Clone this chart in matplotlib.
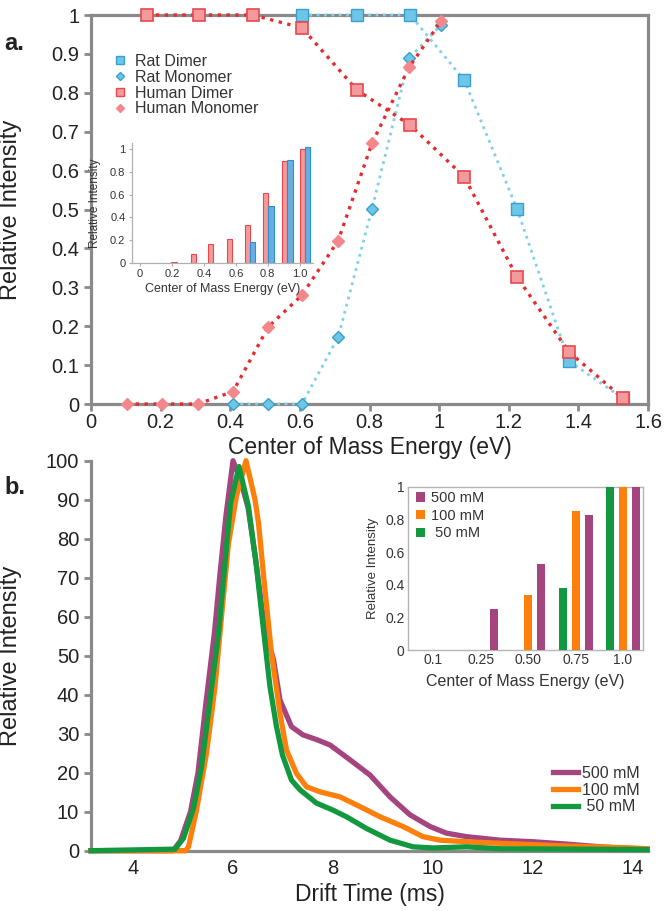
import matplotlib
matplotlib.use("Agg")
import matplotlib.pyplot as plt
from matplotlib.lines import Line2D
import numpy as np

plt.rcParams['font.family'] = ['Liberation Sans', 'DejaVu Sans']

# ---------------- Panel a data ----------------
rat_dimer_x = [0.606, 0.764, 0.917, 1.072, 1.224, 1.373, 1.528]
rat_dimer_y = [1.0, 1.0, 1.0, 0.833, 0.501, 0.110, 0.015]
rat_mono_x = [0.408, 0.509, 0.606, 0.710, 0.807, 0.914, 1.006]
rat_mono_y = [0.0, 0.0, 0.0, 0.172, 0.501, 0.889, 0.975]
hum_dimer_x = [0.161, 0.310, 0.465, 0.606, 0.764, 0.917, 1.072, 1.224, 1.373, 1.528]
hum_dimer_y = [1.0, 1.0, 1.0, 0.967, 0.807, 0.717, 0.584, 0.326, 0.134, 0.015]
hum_mono_x = [0.103, 0.204, 0.307, 0.408, 0.509, 0.606, 0.710, 0.807, 0.914, 1.006]
hum_mono_y = [0.0, 0.0, 0.0, 0.032, 0.198, 0.280, 0.420, 0.670, 0.866, 0.985]

# inset a
inset_a_energy = [0.23, 0.35, 0.46, 0.578, 0.689, 0.803, 0.922, 1.032]
inset_a_human = [0.012, 0.08, 0.166, 0.21, 0.33, 0.615, 0.895, 1.0]
inset_a_rat = [0.0, 0.0, 0.0, 0.0, 0.18, 0.50, 0.90, 1.02]
inset_a_xticks = [0, 0.2, 0.4, 0.6, 0.8, 1.0]
inset_a_xticklabels = ['0', '0.2', '0.4', '0.6', '0.8', '1.0']
inset_a_yticks = [0, 0.2, 0.4, 0.6, 0.8, 1.0]
inset_a_yticklabels = ['0', '0.2', '0.4', '0.6', '0.8', '1']

# ---------------- Panel b data ----------------
p500_x = [3.16, 4.80, 4.95, 5.15, 5.30, 5.46, 5.63, 5.74, 5.86, 6.00, 6.15, 6.30, 6.45, 6.58,
          6.70, 6.81, 6.94, 7.17, 7.40, 7.67, 7.94, 8.34, 8.74, 9.14, 9.54, 9.94, 10.27, 10.67,
          11.34, 12.00, 12.67, 13.34, 14.00, 14.28]
p500_y = [0, 0, 2.5, 10, 20, 38, 56, 71, 86, 100, 95, 88, 75, 62,
          54, 49, 38.6, 31.8, 29.7, 28.5, 27.1, 23.3, 19.4, 13.8, 9.2, 6.2, 4.5, 3.6,
          2.7, 2.3, 1.7, 1.0, 0.5, 0.4]
p100_x = [3.16, 5.05, 5.11, 5.27, 5.47, 5.64, 5.77, 5.91, 6.07, 6.26, 6.44, 6.51, 6.64, 6.77,
          6.94, 7.07, 7.27, 7.47, 7.74, 8.14, 8.54, 8.94, 9.40, 9.80, 10.14, 10.67, 11.34,
          12.67, 14.00, 14.28]
p100_y = [0, 0, 1, 10.4, 25, 42, 60, 78.8, 91, 100, 90, 84, 66.8, 50.6,
          35.2, 25.8, 19.8, 16.4, 15.1, 13.8, 11.3, 8.7, 6.2, 3.6, 2.7, 2.3, 1.9,
          1.2, 0.7, 0.5]
p50_x = [3.16, 4.84, 5.01, 5.21, 5.37, 5.54, 5.71, 5.82, 5.95, 6.12, 6.31, 6.47, 6.61, 6.74,
         6.87, 6.99, 7.17, 7.34, 7.67, 8.00, 8.27, 8.67, 9.14, 9.60, 10.00, 10.67, 11.34, 14.28]
p50_y = [0, 0.4, 3.2, 10.9, 21.5, 38.6, 55.7, 71, 89, 98.5, 88.2, 72.8, 56.6, 42,
         31.8, 24.5, 18.1, 15.6, 12.2, 10.4, 8.7, 5.7, 2.7, 1.0, 0.7, 1.0, 0.5, 0.3]

# inset b
inset_b_categories = ['0.1', '0.25', '0.50', '0.75', '1.0']
inset_b_500 = [0.0, 0.25, 0.53, 0.83, 1.0]
inset_b_100 = [0.0, 0.0, 0.34, 0.85, 1.0]
inset_b_50 = [0.0, 0.0, 0.0, 0.38, 1.0]

# ---------------- colours ----------------
RED_LINE = '#e62a2f'
RED_FACE = '#f29a9c'
RED_EDGE = '#e8484d'
RED_DIA = '#f2888c'
BLUE_LINE = '#80d0e6'
BLUE_FACE = '#6ec6e6'
BLUE_EDGE = '#3a9fd0'
PURPLE = '#a5457f'
ORANGE = '#fd7f0c'
GREEN = '#12983f'
SPINE = '#8a8a8a'
TXT = '#222222'

W, H = 666, 911
fig = plt.figure(figsize=(W / 100, H / 100), dpi=100)

def fax(l, b, r, t):
    return fig.add_axes([l / W, 1 - b / H, (r - l) / W, (b - t) / H])

# ================= Panel a =================
ax1 = fax(91, 404, 648, 15)
ax1.set_xlim(0, 1.6)
ax1.set_ylim(0, 1)
ax1.plot(rat_dimer_x, rat_dimer_y, ls=':', lw=2.0, color=BLUE_LINE, marker='s', ms=8,
         mfc=BLUE_FACE, mec=BLUE_EDGE, mew=1.0, clip_on=False, zorder=3)
ax1.plot(rat_mono_x, rat_mono_y, ls=':', lw=2.0, color=BLUE_LINE, marker='D', ms=6.5,
         mfc=BLUE_FACE, mec=BLUE_EDGE, mew=1.0, clip_on=False, zorder=3)
ax1.plot(hum_dimer_x, hum_dimer_y, ls=':', lw=2.4, color=RED_LINE, marker='s', ms=9,
         mfc=RED_FACE, mec=RED_EDGE, mew=1.2, clip_on=False, zorder=4)
ax1.plot(hum_mono_x, hum_mono_y, ls=':', lw=2.4, color=RED_LINE, marker='D', ms=6.5,
         mfc=RED_DIA, mec=RED_DIA, mew=1.0, clip_on=False, zorder=4)

for s in ax1.spines.values():
    s.set_color(SPINE)
    s.set_linewidth(2.3)
ax1.set_xticks(np.arange(0, 1.61, 0.2))
ax1.set_xticklabels(['0', '0.2', '0.4', '0.6', '0.8', '1', '1.2', '1.4', '1.6'])
ax1.set_yticks(np.arange(0, 1.01, 0.1))
ax1.set_yticklabels(['0', '0.1', '0.2', '0.3', '0.4', '0.5', '0.6', '0.7', '0.8', '0.9', '1'])
ax1.tick_params(axis='both', direction='out', length=5, width=2, color=SPINE,
                labelsize=14.5, labelcolor=TXT)
ax1.tick_params(axis='x', pad=1.5)
ax1.set_xlabel('Center of Mass Energy (eV)', fontsize=16.5, color=TXT)
ax1.set_ylabel('Relative Intensity', fontsize=17, color=TXT)
ax1.xaxis.set_label_coords(0.5, -0.083)
ax1.yaxis.set_label_coords(-0.124, 0.5)

handles = [
    Line2D([], [], ls='none', marker='s', ms=5.5, mfc=BLUE_FACE, mec=BLUE_EDGE),
    Line2D([], [], ls='none', marker='D', ms=4.5, mfc=BLUE_FACE, mec=BLUE_EDGE),
    Line2D([], [], ls='none', marker='s', ms=5.5, mfc=RED_FACE, mec=RED_EDGE),
    Line2D([], [], ls='none', marker='D', ms=4.5, mfc=RED_DIA, mec=RED_DIA),
]
leg1 = ax1.legend(handles, ['Rat Dimer', 'Rat Monomer', 'Human Dimer', 'Human Monomer'],
                  loc='upper left', bbox_to_anchor=((114 - 91) / 557, (404 - 54) / 389),
                  frameon=False, fontsize=11.5, handlelength=0.8, handletextpad=0.5,
                  labelspacing=0.05, borderaxespad=0, borderpad=0)
for t in leg1.get_texts():
    t.set_color('#333333')

# ---- inset a ----
ax3 = fax(131.7, 263, 313, 263 - 1.05 * 114)
ax3.set_xlim(-0.052, 1.083)
ax3.set_ylim(0, 1.05)
bw = 0.033
e = np.array(inset_a_energy)
ax3.bar(e - bw / 2, inset_a_human, width=bw, color=RED_FACE, edgecolor=RED_EDGE, linewidth=0.8)
rat_mask = np.array(inset_a_rat) > 0
ax3.bar((e + bw / 2)[rat_mask], np.array(inset_a_rat)[rat_mask], width=bw, color='#6aaee0',
        edgecolor='#2a8fd0', linewidth=0.8)
ax3.spines['top'].set_visible(False)
ax3.spines['right'].set_visible(False)
for s in ['left', 'bottom']:
    ax3.spines[s].set_color('#b0b0b0')
    ax3.spines[s].set_linewidth(0.9)
ax3.set_xticks(inset_a_xticks)
ax3.set_xticklabels(inset_a_xticklabels)
ax3.set_yticks(inset_a_yticks)
ax3.set_yticklabels(inset_a_yticklabels)
ax3.tick_params(axis='both', direction='out', length=2.5, width=0.8, color='#b0b0b0',
                labelsize=8, labelcolor='#333333', pad=2)
ax3.set_xlabel('Center of Mass Energy (eV)', fontsize=9, color='#333333')
ax3.set_ylabel('Relative Intensity', fontsize=8.5, color='#333333')
ax3.xaxis.set_label_coords(0.5, -0.17)
ax3.yaxis.set_label_coords(-0.17, 0.5)

# ================= Panel b =================
ax2 = fax(91, 850.7, 648, 460.7)
ax2.set_xlim(3.16, 14.3)
ax2.set_ylim(0, 100)
ax2.plot(p500_x, p500_y, color=PURPLE, lw=3.8, solid_joinstyle='round', clip_on=False,
         zorder=3, label='500 mM')
ax2.plot(p100_x, p100_y, color=ORANGE, lw=3.8, solid_joinstyle='round', clip_on=False,
         zorder=4, label='100 mM')
ax2.plot(p50_x, p50_y, color=GREEN, lw=3.8, solid_joinstyle='round', clip_on=False,
         zorder=5, label=' 50 mM')
ax2.spines['top'].set_visible(False)
ax2.spines['right'].set_visible(False)
for s in ['left', 'bottom']:
    ax2.spines[s].set_color(SPINE)
    ax2.spines[s].set_linewidth(2.3)
ax2.set_xticks([4, 6, 8, 10, 12, 14])
ax2.set_yticks(np.arange(0, 101, 10))
ax2.tick_params(axis='both', direction='out', length=5, width=2, color=SPINE,
                labelsize=14.5, labelcolor=TXT)
ax2.tick_params(axis='x', length=0, pad=6)
ax2.set_xlabel('Drift Time (ms)', fontsize=16.5, color=TXT)
ax2.set_ylabel('Relative Intensity', fontsize=17, color=TXT)
ax2.xaxis.set_label_coords(0.5, -0.082)
ax2.yaxis.set_label_coords(-0.124, 0.5)
leg2 = ax2.legend(loc='upper right', bbox_to_anchor=((640 - 91) / 557, (850.7 - 766) / 390),
                  frameon=False, fontsize=11.5, handlelength=1.6, handletextpad=0.25,
                  labelspacing=0.1, borderaxespad=0, borderpad=0, alignment='right')
for t in leg2.get_texts():
    t.set_color('#333333')

# ---- inset b ----
ax4 = fax(408, 650, 643, 487)
ax4.set_xlim(-0.53, 4.42)
ax4.set_ylim(0, 1)
xi = np.arange(len(inset_b_categories))
off = 0.274
bwb = 0.17
ax4.bar(xi - off, inset_b_50, width=bwb, color=GREEN, label=' 50 mM', zorder=3)
ax4.bar(xi, inset_b_100, width=bwb, color=ORANGE, label='100 mM', zorder=3)
ax4.bar(xi + off, inset_b_500, width=bwb, color=PURPLE, label='500 mM', zorder=3)
for s in ax4.spines.values():
    s.set_color('#b5b5b5')
    s.set_linewidth(1.0)
ax4.set_xticks(xi)
ax4.set_xticklabels(inset_b_categories)
ax4.set_yticks([0, 0.2, 0.4, 0.6, 0.8, 1.0])
ax4.set_yticklabels(['0', '0.2', '0.4', '0.6', '0.8', '1'])
ax4.tick_params(axis='both', direction='out', length=0, labelsize=10,
                labelcolor='#333333', pad=2.5)
ax4.set_xlabel('Center of Mass Energy (eV)', fontsize=11.5, color='#333333')
ax4.set_ylabel('Relative Intensity', fontsize=9.5, color='#333333')
ax4.xaxis.set_label_coords(0.5, -0.15)
ax4.yaxis.set_label_coords(-0.125, 0.5)
h4, l4 = ax4.get_legend_handles_labels()
order = [2, 1, 0]
leg4 = ax4.legend([h4[i] for i in order], [l4[i] for i in order], loc='upper left',
                  bbox_to_anchor=(0.035, 0.975), frameon=False, fontsize=10.5,
                  handlelength=0.6, handleheight=0.6, handletextpad=0.4,
                  labelspacing=0.25, borderaxespad=0, borderpad=0)
for t in leg4.get_texts():
    t.set_color('#333333')

# panel labels
fig.text(4 / W, 1 - 44 / H, 'a.', fontsize=17, fontweight='bold', va='center', color=TXT)
fig.text(4 / W, 1 - 488 / H, 'b.', fontsize=17, fontweight='bold', va='center', color=TXT)

fig.savefig('out.png', dpi=100)
